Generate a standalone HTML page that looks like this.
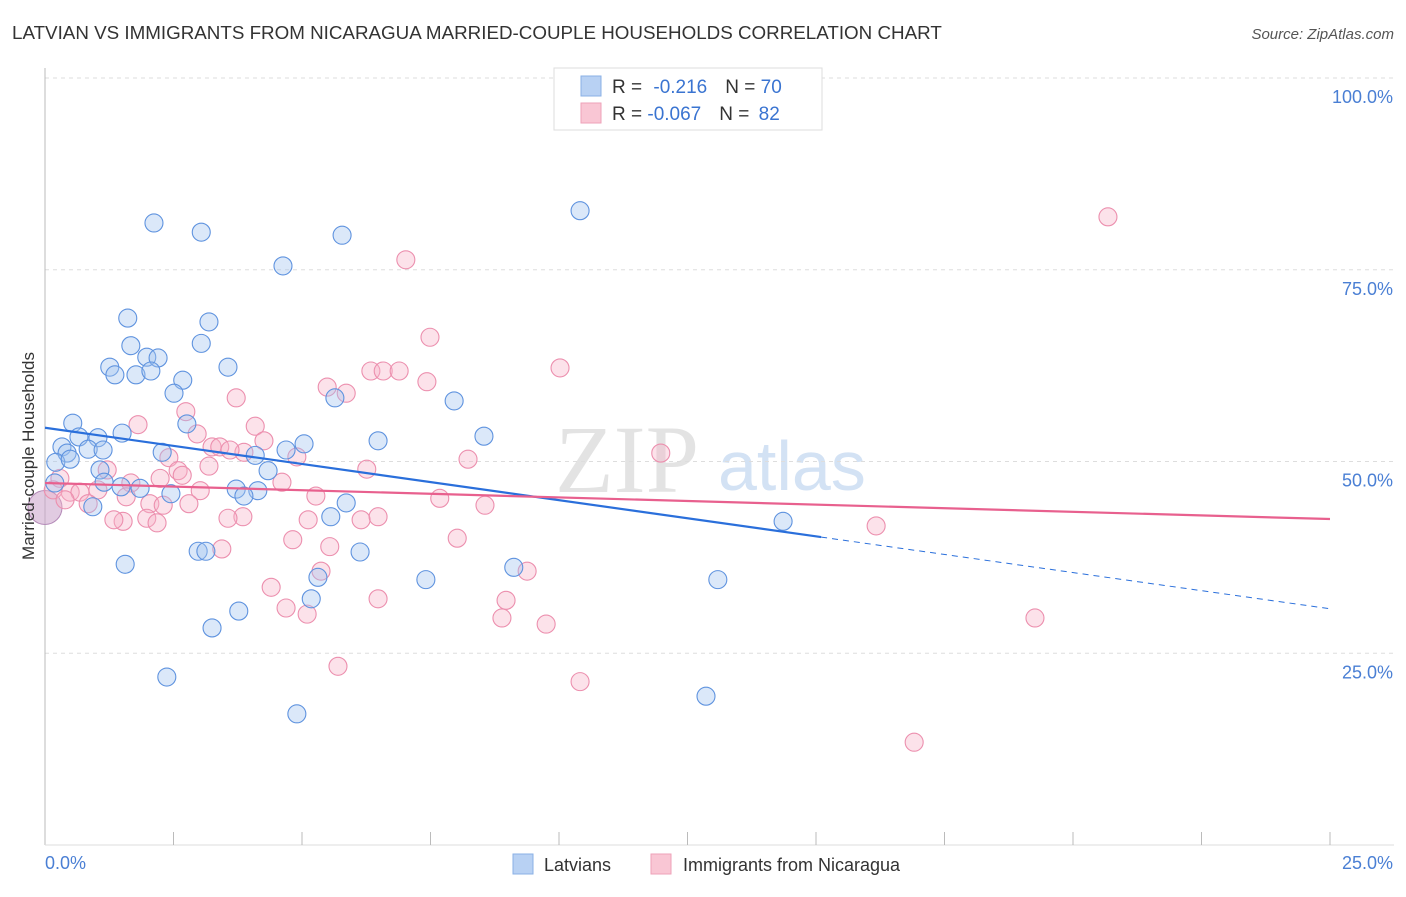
<!DOCTYPE html>
<html><head><meta charset="utf-8"><style>
body{margin:0;background:#fff;font-family:"Liberation Sans",sans-serif}
</style></head><body>
<svg id="chart" width="1406" height="892" xmlns="http://www.w3.org/2000/svg" font-family="Liberation Sans, sans-serif">
<text x="12" y="39" font-size="18.8" fill="#333">LATVIAN VS IMMIGRANTS FROM NICARAGUA MARRIED-COUPLE HOUSEHOLDS CORRELATION CHART</text>
<text x="1394" y="39" font-size="15" fill="#555" font-style="italic" text-anchor="end">Source: ZipAtlas.com</text>
<text x="555" y="492" font-size="96" fill="#ddd" font-family="Liberation Serif, serif" opacity="0.8">ZIP</text>
<text x="718" y="490" font-size="70" fill="#c9dbf2" opacity="0.8">atlas</text>
<g id="grid"></g><g id="ticks"></g><g id="pts"></g><g id="lines"></g>
<text transform="translate(34,456) rotate(-90)" font-size="17" fill="#333" text-anchor="middle">Married-couple Households</text>
<g>
<rect x="554" y="68" width="268" height="62" fill="#fff" stroke="#ddd"/>
<rect x="581" y="76" width="20" height="20" fill="#b8d1f3" stroke="#8ab0e6"/>
<rect x="581" y="103" width="20" height="20" fill="#f9c6d4" stroke="#eea2b8"/>
<text x="612" y="93" font-size="19" fill="#333">R = <tspan fill="#3a74d1" dx="6">-0.216</tspan><tspan dx="18" fill="#333">N = </tspan><tspan fill="#3a74d1">70</tspan></text>
<text x="612" y="120" font-size="19" fill="#333">R = <tspan fill="#3a74d1">-0.067</tspan><tspan dx="18" fill="#333">N = </tspan><tspan fill="#3a74d1" dx="4">82</tspan></text>
</g>
<g>
<rect x="513" y="854" width="20" height="20" fill="#b8d1f3" stroke="#8ab0e6"/>
<text x="544" y="871" font-size="18" fill="#333">Latvians</text>
<rect x="651" y="854" width="20" height="20" fill="#f9c6d4" stroke="#eea2b8"/>
<text x="683" y="871" font-size="18" fill="#333">Immigrants from Nicaragua</text>
</g>
</svg>
<script>
const yTicks=[100,75,50,25];
const yTickLabels=["100.0%","75.0%","50.0%","25.0%"];
const blueX=[2.12,3.04,5.78,10.41,4.63,1.61,3.19,1.67,3.04,1.98,2.20,1.26,1.36,1.77,2.06,3.56,2.68,2.51,5.64,7.96,0.54,1.50,2.76,8.54,6.48,0.66,1.03,0.33,0.84,0.43,1.13,2.28,5.04,4.69,4.09,0.21,0.49,1.07,4.34,1.15,1.48,1.85,0.19,2.45,3.72,4.14,3.87,0.93,5.86,5.56,14.36,2.98,3.13,6.13,1.56,5.31,9.12,7.41,13.09,5.18,3.77,3.25,2.37,12.86,4.90];
const blueY=[81.1,79.9,79.5,82.7,75.5,68.7,68.2,65.1,65.4,63.6,63.5,62.3,61.3,61.3,61.8,62.3,60.6,58.9,58.3,57.9,55.0,53.7,54.9,53.3,52.7,53.2,53.1,51.9,51.6,51.1,51.5,51.2,52.3,51.5,50.8,49.9,50.3,48.9,48.8,47.3,46.7,46.5,47.2,45.8,46.4,46.2,45.5,44.1,44.6,42.8,42.2,38.3,38.3,38.2,36.6,34.9,36.2,34.6,34.6,32.1,30.5,28.3,21.9,19.4,17.1];
const pinkX=[20.68,7.02,7.49,10.02,6.34,6.58,6.89,7.43,5.49,5.86,3.72,2.74,1.81,4.09,2.96,4.26,3.25,3.40,3.87,3.60,11.98,2.41,8.23,4.90,6.26,3.19,2.59,1.21,2.67,2.24,1.67,4.61,0.29,0.16,0.49,0.68,0.39,1.03,3.02,5.27,7.68,8.56,1.58,2.04,2.30,2.80,0.84,1.52,1.34,1.98,2.18,3.85,3.56,5.12,6.15,6.48,16.17,4.82,8.02,5.54,3.44,5.37,9.38,4.40,6.48,8.97,4.69,5.10,8.89,9.75,19.26,5.70,10.41,16.91];
const pinkY=[81.9,76.3,66.2,62.2,61.8,61.8,61.8,60.4,59.7,58.9,58.3,56.5,54.8,54.6,53.6,52.7,51.9,51.9,51.2,51.5,51.1,50.5,50.3,50.6,49.0,49.4,48.8,48.9,48.2,47.8,47.2,47.3,47.8,46.3,46.0,46.0,45.0,46.3,46.2,45.5,45.2,44.3,45.4,44.5,44.3,44.5,44.5,42.2,42.4,42.6,42.0,42.8,42.6,42.4,42.4,42.8,41.6,39.8,40.0,38.9,38.6,35.7,35.7,33.6,32.1,31.9,30.9,30.1,29.6,28.8,29.6,23.3,21.3,13.4];
const blueTrend=[54.4,30.8], pinkTrend=[47.2,42.5], blueSolidEnd=15.1;
const X=v=>45+v/25*1285, Y=v=>845-v/100*767;
const NS="http://www.w3.org/2000/svg";
function mk(tag,attrs,parent){const e=document.createElementNS(NS,tag);for(const k in attrs)e.setAttribute(k,attrs[k]);document.getElementById(parent).appendChild(e);return e;}
yTicks.forEach((t,i)=>{
 const g=mk('line',{x1:45,x2:1394,y1:Y(t),y2:Y(t),stroke:'#ddd','stroke-dasharray':'4,4'},'grid');
 
 
 const l=mk('text',{x:1393,y:Y(t)+25,'font-size':18,fill:'#4a7fd4','text-anchor':'end'},'grid');
 
 
 l.textContent=yTickLabels[i];
});
const ax=mk('line',{x1:45,x2:45,y1:68,y2:845,stroke:'#bbb'},'ticks');


const bx=mk('line',{x1:45,x2:1394,y1:845,y2:845,stroke:'#ddd'},'ticks');


for(let i=1;i<=10;i++){const t=mk('line',{x1:X(i*2.5),x2:X(i*2.5),y1:832,y2:845,stroke:'#bbb'},'ticks');
 
 }
[["0.0%",45,'start'],["25.0%",1393,'end']].forEach(a=>{const t=mk('text',{x:a[1],y:869,'font-size':18,fill:'#4a7fd4','text-anchor':a[2]},'ticks');
 
 
 t.textContent=a[0];});
const big=mk('circle',{cx:X(0),cy:Y(44),r:17,fill:'rgba(200,160,200,0.55)',stroke:'#b48ab8'},'pts');


pinkX.forEach((x,i)=>{const c=mk('circle',{cx:X(x),cy:Y(pinkY[i]),r:9,fill:'rgba(247,180,200,0.38)',stroke:'#ec8fae','stroke-width':1.1},'pts');
 
 });
blueX.forEach((x,i)=>{const c=mk('circle',{cx:X(x),cy:Y(blueY[i]),r:9,fill:'rgba(160,195,240,0.38)',stroke:'#5f93df','stroke-width':1.1},'pts');
 
 });
const bAt=v=>blueTrend[0]+(blueTrend[1]-blueTrend[0])*v/25;
const b1=mk('line',{x1:X(0),y1:Y(blueTrend[0]),x2:X(blueSolidEnd),y2:Y(bAt(blueSolidEnd)),stroke:'#2a6fdb','stroke-width':2.2},'lines');


const b2=mk('line',{x1:X(blueSolidEnd),y1:Y(bAt(blueSolidEnd)),x2:X(25),y2:Y(blueTrend[1]),stroke:'#2a6fdb','stroke-width':1,'stroke-dasharray':'6,5'},'lines');


const p1=mk('line',{x1:X(0),y1:Y(pinkTrend[0]),x2:X(25),y2:Y(pinkTrend[1]),stroke:'#e8608e','stroke-width':2.2},'lines');


</script>
</body></html>
